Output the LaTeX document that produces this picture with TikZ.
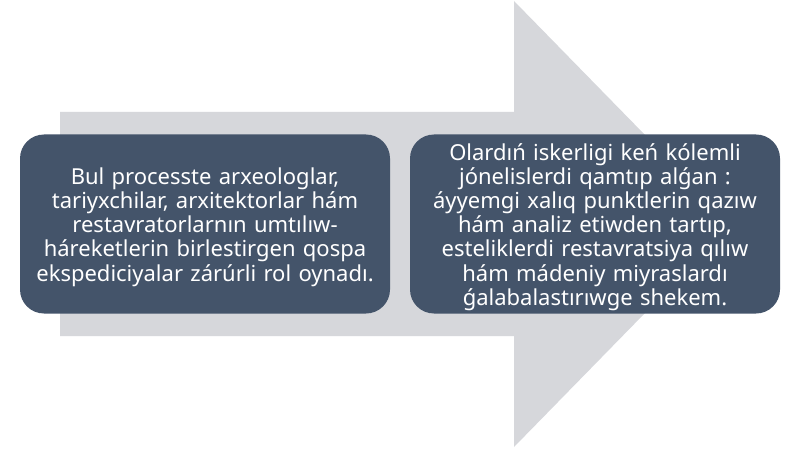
\documentclass[tikz,border=0pt]{standalone}
\usepackage{fontspec}
\setmainfont{Noto Sans}
\definecolor{boxfill}{HTML}{44546A}
\definecolor{arrowgray}{HTML}{D6D7DB}
\tikzset{
  textbox/.style={fill=boxfill, rounded corners=24pt, minimum width=370pt, minimum height=179pt,
    text width=364pt, align=center, text=white, inner sep=0pt,
    font=\fontsize{22}{24.2}\selectfont},
  bigarrow/.style={fill=arrowgray, draw=none}
}
\begin{document}
\begin{tikzpicture}[x=1pt,y=-1pt]
\useasboundingbox (0,0) rectangle (800,449);
\fill[white] (0,0) rectangle (800,449);
\fill[bigarrow] (60,112) -- (514,112) -- (514,1) -- (732,224) -- (514,447) -- (514,336) -- (60,336) -- cycle;
\node[textbox] (left) at (205,224) {};
\node[textbox] (right) at (595,224) {};
\node[textbox, fill=none] (lefttext) at (205,227) {Bul processte arxeologlar,\\ tariyxchilar, arxitektorlar hám\\ restavratorlarnın umtılıw-\\ háreketlerin birlestirgen qospa\\ ekspediciyalar zárúrli rol oynadı.};
\node[textbox, fill=none] (righttext) at (595,227) {Olardıń iskerligi keń kólemli\\ jónelislerdi qamtıp alǵan :\\ áyyemgi xalıq punktlerin qazıw\\ hám analiz etiwden tartıp,\\ esteliklerdi restavratsiya qılıw\\ hám mádeniy miyraslardı\\ ǵalabalastırıwge shekem.};
\end{tikzpicture}
\end{document}
